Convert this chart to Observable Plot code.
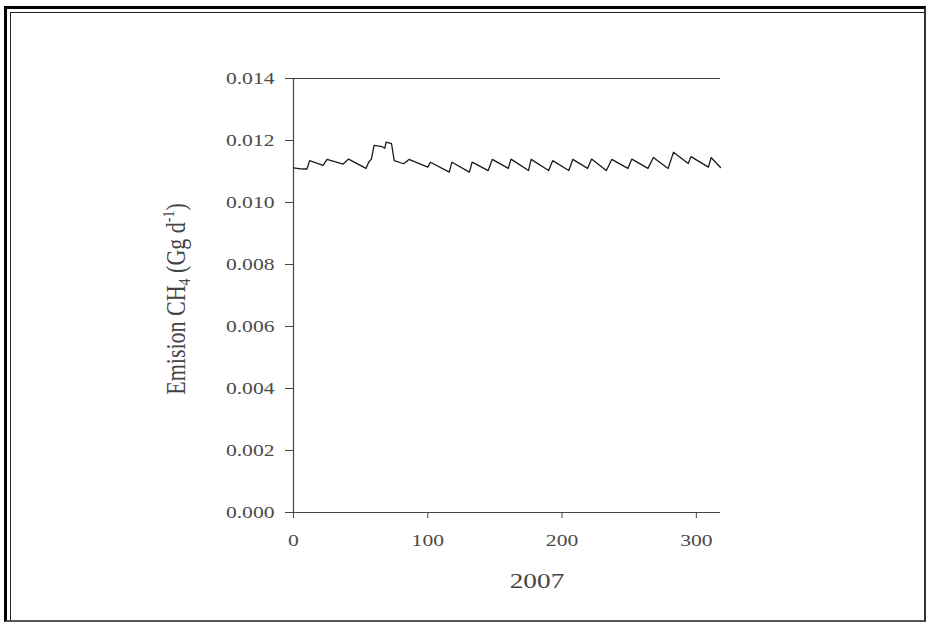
<!DOCTYPE html>
<html>
<head>
<meta charset="utf-8">
<script src="https://cdn.jsdelivr.net/npm/d3@7"></script>
<script src="https://cdn.jsdelivr.net/npm/@observablehq/plot@0.6"></script>
<style>
  body { margin: 0; background: #fff; }
  #wrap { position: relative; width: 928px; height: 624px; overflow: hidden; }
  #outer { position: absolute; left: 4px; top: 6px; width: 922px; height: 616px; box-sizing: border-box;
           border-top: 3px solid #000; border-left: 3px solid #000; border-right: 2px solid #333; border-bottom: 2px solid #555; }
  #inner { position: absolute; left: 10px; top: 12px; width: 914px; height: 608px; box-sizing: border-box;
           border-top: 1px solid #222; border-left: 1px solid #222; }
  svg { position: absolute; left: 0; top: 0; }
</style>
</head>
<body>
<div id="wrap"><div id="outer"></div><div id="inner"></div></div>
<script>
// Day of year 2007
const days = [0, 7, 10, 12, 22, 25, 37, 41, 54, 56, 58, 60, 66, 68, 69, 73, 75, 82, 86, 100, 102, 116, 118, 131, 133, 145, 148, 160, 162, 175, 177, 190, 193, 205, 208, 219, 222, 233, 237, 249, 252, 264, 268, 279, 283, 294, 296, 309, 311, 318];
// Emission CH4 (Gg d-1)
const emission = [0.01112, 0.01108, 0.01108, 0.01135, 0.01120, 0.01139, 0.01124, 0.01140, 0.01110, 0.01130, 0.01140, 0.01184, 0.01180, 0.01175, 0.01195, 0.01190, 0.01135, 0.01125, 0.01139, 0.01114, 0.01130, 0.01098, 0.01130, 0.01098, 0.01130, 0.01103, 0.01139, 0.01110, 0.01140, 0.01103, 0.01139, 0.01103, 0.01135, 0.01103, 0.01139, 0.01110, 0.01140, 0.01103, 0.01139, 0.01110, 0.01140, 0.01110, 0.01145, 0.01110, 0.01162, 0.01126, 0.01148, 0.01114, 0.01145, 0.01113];
const xTicks = [0, 100, 200, 300];
const yTicks = [0, 0.002, 0.004, 0.006, 0.008, 0.010, 0.012, 0.014];
const xLabel = "2007";

const data = days.map((d, i) => ({day: d, value: emission[i]}));
const axisColor = "#444";

const chart = Plot.plot({
  width: 928,
  height: 624,
  marginLeft: 293,
  marginRight: 208,
  marginTop: 78,
  marginBottom: 112,
  style: {fontFamily: "'Liberation Serif', 'Times New Roman', serif", fontSize: "16px", color: "#4a4a4a", background: "transparent"},
  x: {domain: [0, 318], label: null},
  y: {domain: [yTicks[0], yTicks[yTicks.length - 1]], label: null},
  marks: [
    Plot.ruleY([yTicks[yTicks.length - 1]], {stroke: axisColor, strokeWidth: 1.2}),
    Plot.ruleY([yTicks[0]], {stroke: axisColor, strokeWidth: 1.2}),
    Plot.ruleX([xTicks[0]], {stroke: axisColor, strokeWidth: 1.2}),
    Plot.axisX({ticks: xTicks, tickSize: 6, tickPadding: 16, stroke: axisColor, label: null, tickFormat: d3.format("d")}),
    Plot.axisY({ticks: yTicks, tickSize: 8, tickPadding: 11, stroke: axisColor, label: null, tickFormat: d3.format(".3f")}),
    Plot.line(data, {x: "day", y: "value", stroke: "#1a1a1a", strokeWidth: 1.3})
  ]
});

document.getElementById("wrap").appendChild(chart);

// Widen the serif tick labels as in the reference
const STRETCH = 1.35;
chart.querySelectorAll('g[aria-label$="tick label"] text').forEach(t => {
  const w = t.getComputedTextLength();
  t.setAttribute("textLength", w * STRETCH);
  t.setAttribute("lengthAdjust", "spacingAndGlyphs");
});

const svg = d3.select(chart);
// Y axis title with subscript and superscript
const yl = svg.append("text")
  .attr("transform", "translate(185,299) scale(1.2,1) rotate(-90)")
  .attr("text-anchor", "middle")
  .attr("fill", "#444")
  .style("font-family", "'Liberation Serif', 'Times New Roman', serif")
  .style("font-size", "22px");
yl.append("tspan").text("Emision CH");
yl.append("tspan").attr("dy", 4).style("font-size", "14px").text("4");
yl.append("tspan").attr("dy", -4).text(" (Gg d");
yl.append("tspan").attr("dy", -9).style("font-size", "14px").text("-1");
yl.append("tspan").attr("dy", 9).text(")");

// X axis title
svg.append("text")
  .attr("transform", "translate(537,588) scale(1.3,1)")
  .attr("text-anchor", "middle")
  .attr("fill", "#444")
  .style("font-family", "'Liberation Serif', 'Times New Roman', serif")
  .style("font-size", "21px")
  .text(xLabel);
</script>
</body>
</html>
